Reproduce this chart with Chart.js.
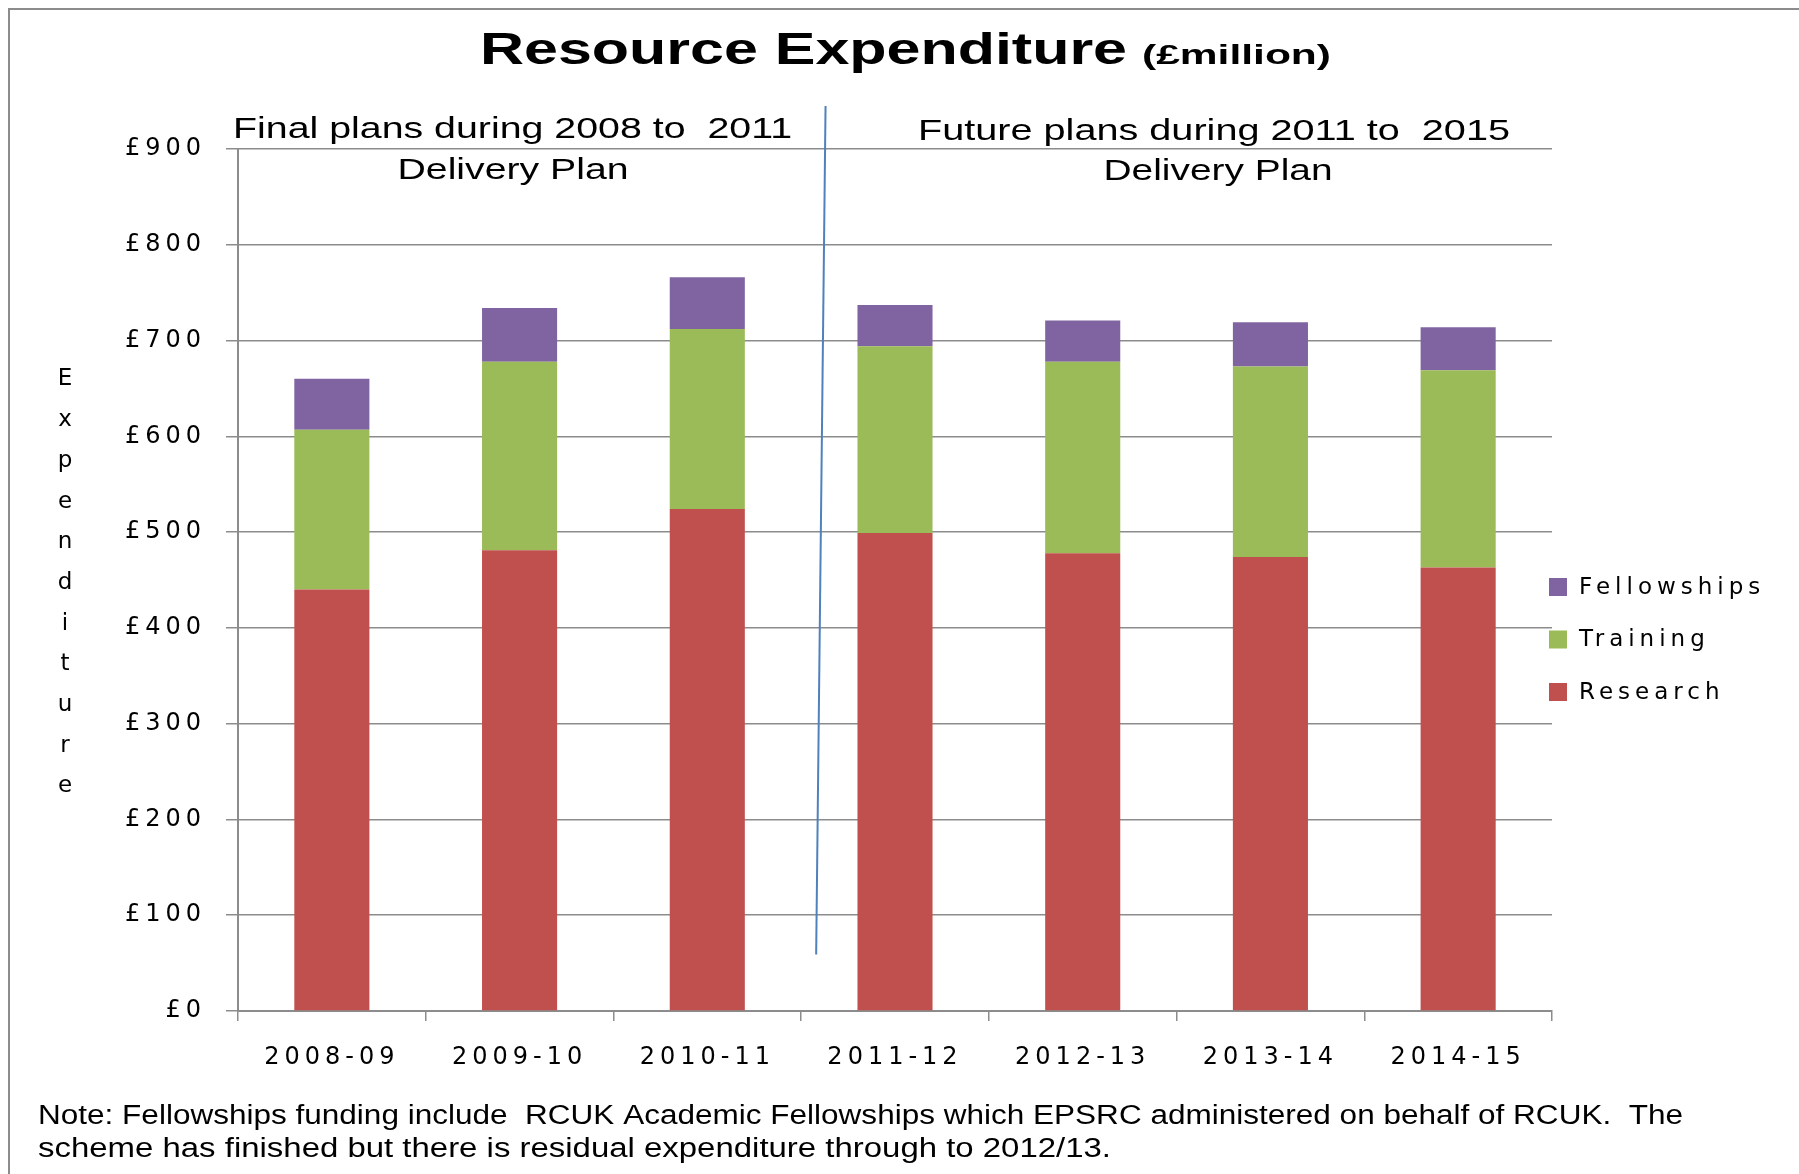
<!DOCTYPE html>
<html>
<head>
<meta charset="utf-8">
<script src="https://cdn.jsdelivr.net/npm/chart.js@4.4.0/dist/chart.umd.min.js"></script>
<style>
  html, body { margin: 0; padding: 0; background: #fff; }
</style>
</head>
<body>
<canvas id="chart" width="1799" height="1174"></canvas>
<script>
// values (£ million)
const years = ['2008-09', '2009-10', '2010-11', '2011-12', '2012-13', '2013-14', '2014-15'];
const research = [440, 481, 524, 499, 478, 474, 463];
const training = [167, 197, 188, 195, 200, 199, 206];
const fellowships = [53, 56, 54, 43, 43, 46, 45];
const yMax = 900;
const yStep = 100;

// divider between past and future plans (category index / value ends)
const dividerTop = { x: 2.63, y: 945 };
const dividerBottom = { x: 2.58, y: 59 };

const gridColor = '#8c8c8c';

function fitText(ctx, text, x, y, w, font, align) {
  ctx.save();
  ctx.font = font;
  ctx.letterSpacing = '0px';
  const m = ctx.measureText(text).width;
  ctx.translate(x, y);
  ctx.scale(w / m, 1);
  ctx.textAlign = 'left';
  ctx.textBaseline = 'alphabetic';
  ctx.fillText(text, align === 'center' ? -m / 2 : 0, 0);
  ctx.restore();
}

const decorations = {
  id: 'decorations',
  beforeDraw(chart) {
    // wide look of the axis labels
    chart.ctx.letterSpacing = '5px';
  },
  afterDraw(chart) {
    const ctx = chart.ctx;
    const area = chart.chartArea;
    const xs = chart.scales.x;
    const ys = chart.scales.y;
    ctx.save();
    ctx.letterSpacing = '0px';
    ctx.fillStyle = '#000';

    // outer frame
    ctx.strokeStyle = '#8c8c8c';
    ctx.lineWidth = 2;
    ctx.strokeRect(9, 9, 1820, 1200);

    // title
    fitText(ctx, 'Resource Expenditure', 480, 64, 647, 'bold 44px "Liberation Sans"');
    fitText(ctx, '(£million)', 1142, 64, 189, 'bold 27px "Liberation Sans"');

    // period annotations
    const af = '29px "Liberation Sans"';
    fitText(ctx, 'Final plans during 2008 to  2011', 233, 138, 559, af);
    fitText(ctx, 'Delivery Plan', 513, 179, 231, af, 'center');
    fitText(ctx, 'Future plans during 2011 to  2015', 918, 140, 592, af);
    fitText(ctx, 'Delivery Plan', 1218, 180, 229, af, 'center');

    // divider line
    ctx.strokeStyle = '#4f81bd';
    ctx.lineWidth = 2;
    ctx.beginPath();
    ctx.moveTo(xs.getPixelForValue(dividerTop.x), ys.getPixelForValue(dividerTop.y));
    ctx.lineTo(xs.getPixelForValue(dividerBottom.x), ys.getPixelForValue(dividerBottom.y));
    ctx.stroke();

    // stacked vertical axis title
    const letters = 'Expenditure'.split('');
    const midY = (area.top + area.bottom) / 2 + 3;
    ctx.font = '23px "DejaVu Sans"';
    ctx.textAlign = 'center';
    ctx.textBaseline = 'middle';
    letters.forEach((ch, i) => {
      ctx.fillText(ch, 65, midY + (i - (letters.length - 1) / 2) * 40.7);
    });

    // legend, top to bottom in reverse stacking order
    const items = chart.data.datasets.slice().reverse();
    ctx.font = '23px "DejaVu Sans"';
    ctx.letterSpacing = '5px';
    ctx.textAlign = 'left';
    items.forEach((ds, i) => {
      const cy = 587 + i * 52.5;
      ctx.fillStyle = ds.backgroundColor;
      ctx.fillRect(1549, cy - 9, 18, 18);
      ctx.fillStyle = '#000';
      ctx.fillText(ds.label, 1579, cy + 1);
    });
    ctx.letterSpacing = '0px';

    // note
    const nf = '27px "Liberation Sans"';
    fitText(ctx, 'Note: Fellowships funding include  RCUK Academic Fellowships which EPSRC administered on behalf of RCUK.  The', 38, 1124, 1645, nf);
    fitText(ctx, 'scheme has finished but there is residual expenditure through to 2012/13.', 38, 1157, 1073, nf);

    ctx.restore();
  }
};

new Chart(document.getElementById('chart'), {
  type: 'bar',
  data: {
    labels: years,
    datasets: [
      { label: 'Research', data: research, backgroundColor: '#c0504d' },
      { label: 'Training', data: training, backgroundColor: '#9bbb59' },
      { label: 'Fellowships', data: fellowships, backgroundColor: '#8064a2' }
    ]
  },
  options: {
    responsive: false,
    devicePixelRatio: 1,
    animation: false,
    barPercentage: 0.4,
    categoryPercentage: 1,
    layout: { padding: { left: 0, top: 149, right: 247, bottom: 103 } },
    plugins: {
      legend: { display: false },
      tooltip: { enabled: false },
      title: { display: false }
    },
    scales: {
      x: {
        stacked: true,
        afterFit: (s) => { s.height = 60; },
        grid: {
          offset: true,
          drawOnChartArea: false,
          drawTicks: true,
          tickLength: 10,
          color: gridColor,
          lineWidth: 1.5
        },
        border: { display: true, color: gridColor, width: 2 },
        ticks: {
          color: '#000',
          font: { family: 'DejaVu Sans', size: 24 },
          padding: 22,
          maxRotation: 0
        }
      },
      y: {
        stacked: true,
        min: 0,
        max: yMax,
        afterFit: (s) => { s.width = 238; },
        grid: {
          color: gridColor,
          lineWidth: 1.5,
          tickLength: 12
        },
        border: { display: true, color: gridColor, width: 2 },
        ticks: {
          stepSize: yStep,
          color: '#000',
          font: { family: 'DejaVu Sans', size: 24 },
          padding: 20,
          callback: (v) => '£' + v
        }
      }
    }
  },
  plugins: [decorations]
});
</script>
</body>
</html>
